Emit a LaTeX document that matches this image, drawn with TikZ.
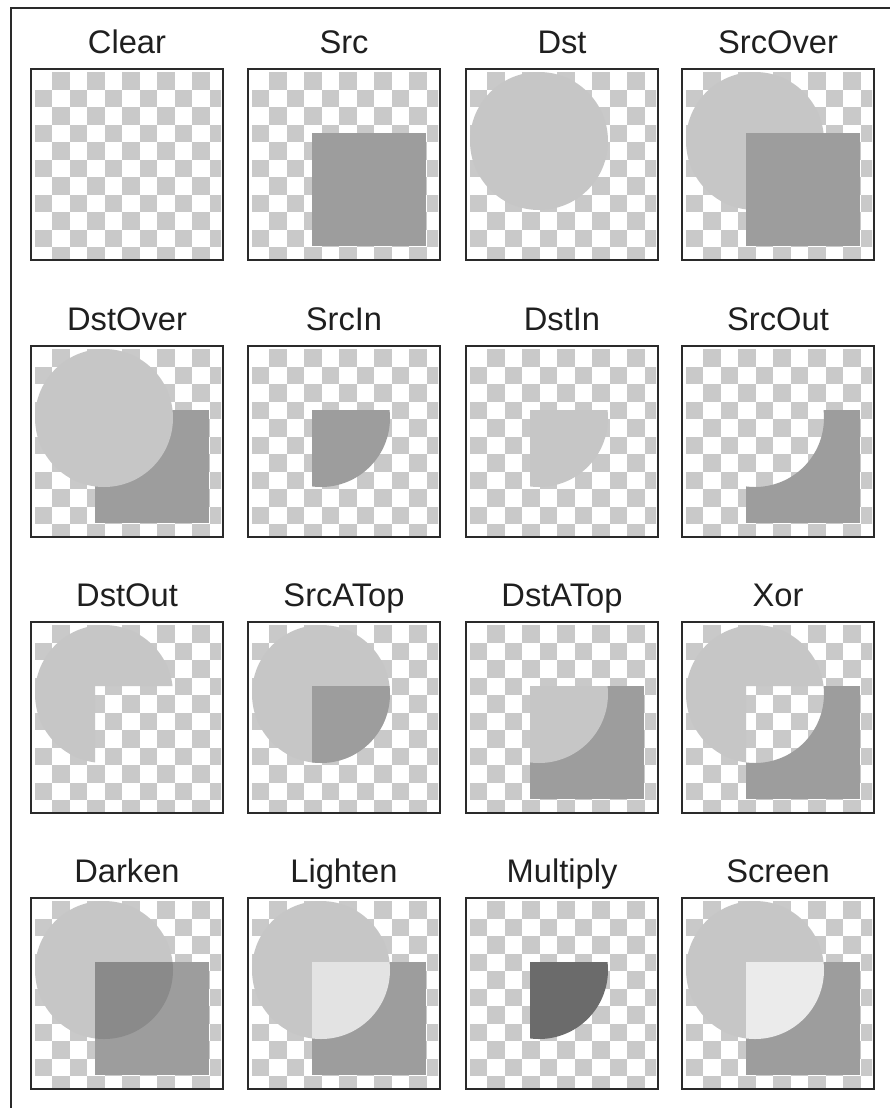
\documentclass[tikz,border=0pt]{standalone}
\usepackage{fontspec}
\setmainfont{Liberation Sans}
\definecolor{chk}{HTML}{C9C9C9}
\definecolor{dstc}{HTML}{C6C6C6}
\definecolor{srcc}{HTML}{9D9D9D}
\definecolor{mulc}{HTML}{6B6B6B}
\definecolor{dkc}{HTML}{8A8A8A}
\definecolor{ltc}{HTML}{E3E3E3}
\definecolor{scrc}{HTML}{EBEBEB}
\definecolor{framec}{HTML}{2A2A2A}
\tikzset{
  dstshape/.style={insert path={(73,72) circle[radius=51.75pt]}},
  srcshape/.style={insert path={(64,64) rectangle (178,177)}},
  bigshape/.style={insert path={(-20,-20) rectangle (212,212)}},
  pframe/.style={draw=framec, line width=1.6pt},
  lbl/.style={font=\fontsize{24.5}{28}\selectfont, text=black!88, inner sep=0pt, anchor=base},
}
\newcommand{\mkpanel}[5]{%
\begin{scope}[shift={(#1,#2)}]
  \fill[white] (0,0) rectangle (192,191);
  \begin{scope}
    \clip (3,3) rectangle (190,189.5);
    \foreach \i in {0,...,10}{\foreach \j in {0,...,10}{%
      \ifodd\numexpr\i+\j\relax
        \fill[chk] ({3.5+17.5*\i},{3+17.5*\j}) rectangle +(17.5,17.5);
      \fi}}
  \end{scope}
  #5
  \draw[pframe] (0,0) rectangle (192,191);
  \node[lbl] (#4) at (96,-16) {#3};
\end{scope}}
% square minus circle, circle minus square
\newcommand{\srcout}{\begin{scope}[even odd rule]\path[clip, bigshape, dstshape]; \fill[srcc, srcshape];\end{scope}}
\newcommand{\dstout}{\begin{scope}[even odd rule]\path[clip, bigshape, srcshape]; \fill[dstc, dstshape];\end{scope}}
\begin{document}
\begin{tikzpicture}[x=0.75pt,y=-0.75pt]
\useasboundingbox (0,0) rectangle (890,1108);
\fill[white] (0,0) rectangle (890,1108);
\draw[draw=framec, line width=1.8pt] (11,1108) -- (11,8) -- (890,8);
% row 1
\mkpanel{31}{69}{Clear}{clear}{}
\mkpanel{248}{69}{Src}{src}{\fill[srcc, srcshape];}
\mkpanel{466}{69}{Dst}{dst}{\fill[dstc, dstshape];}
\mkpanel{682}{69}{SrcOver}{srcover}{\fill[dstc, dstshape]; \fill[srcc, srcshape];}
% row 2
\mkpanel{31}{346}{DstOver}{dstover}{\fill[srcc, srcshape]; \fill[dstc, dstshape];}
\mkpanel{248}{346}{SrcIn}{srcin}{\begin{scope}\path[clip, srcshape]; \fill[srcc, dstshape];\end{scope}}
\mkpanel{466}{346}{DstIn}{dstin}{\begin{scope}\path[clip, srcshape]; \fill[dstc, dstshape];\end{scope}}
\mkpanel{682}{346}{SrcOut}{srcoutp}{\srcout}
% row 3
\mkpanel{31}{622}{DstOut}{dstoutp}{\dstout}
\mkpanel{248}{622}{SrcATop}{srcatop}{\fill[dstc, dstshape]; \begin{scope}\path[clip, dstshape]; \fill[srcc, srcshape];\end{scope}}
\mkpanel{466}{622}{DstATop}{dstatop}{\fill[srcc, srcshape]; \begin{scope}\path[clip, srcshape]; \fill[dstc, dstshape];\end{scope}}
\mkpanel{682}{622}{Xor}{xor}{\srcout\dstout}
% row 4
\mkpanel{31}{898}{Darken}{darken}{\fill[dstc, dstshape]; \fill[srcc, srcshape]; \begin{scope}\path[clip, srcshape]; \fill[dkc, dstshape];\end{scope}}
\mkpanel{248}{898}{Lighten}{lighten}{\fill[dstc, dstshape]; \fill[srcc, srcshape]; \begin{scope}\path[clip, srcshape]; \fill[ltc, dstshape];\end{scope}}
\mkpanel{466}{898}{Multiply}{multiply}{\begin{scope}\path[clip, srcshape]; \fill[mulc, dstshape];\end{scope}}
\mkpanel{682}{898}{Screen}{screen}{\fill[dstc, dstshape]; \fill[srcc, srcshape]; \begin{scope}\path[clip, srcshape]; \fill[scrc, dstshape];\end{scope}}
\end{tikzpicture}
\end{document}
